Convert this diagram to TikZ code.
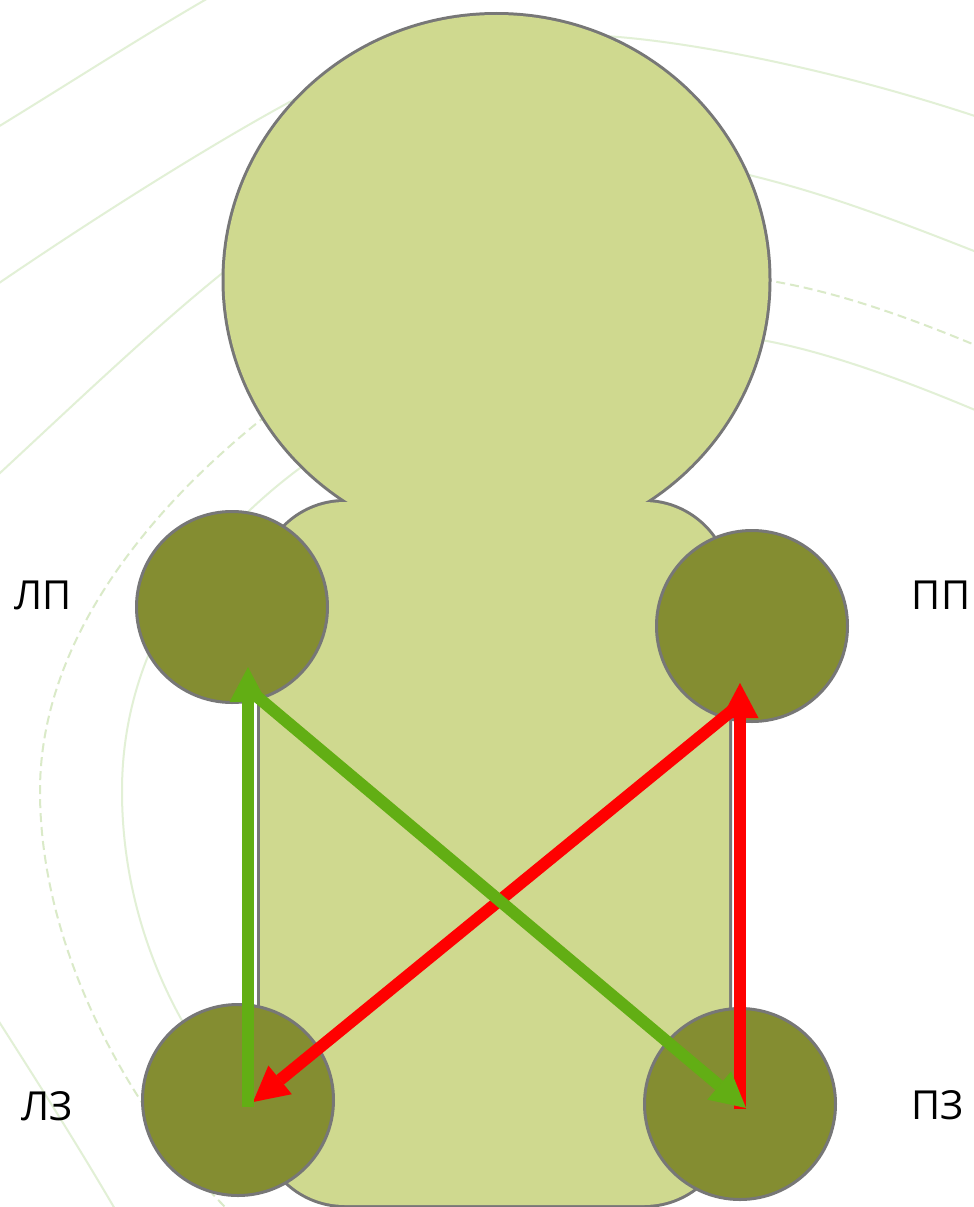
\documentclass[tikz,border=0pt]{standalone}
\usepackage{fontspec}
\setmainfont{Open Sans}
\usetikzlibrary{arrows.meta}
\definecolor{bodygreen}{HTML}{CFD98F}
\definecolor{jointolive}{HTML}{848D31}
\definecolor{edgegray}{HTML}{777777}
\definecolor{arrowgreen}{HTML}{62AE14}
\definecolor{arcgreen}{HTML}{E2F0D6}
\definecolor{arcdash}{HTML}{DAEAC8}

\begin{document}
\begin{tikzpicture}[x=1pt, y=-1pt,
  joint/.style={circle, draw=edgegray, line width=3pt, fill=jointolive, minimum size=191pt, inner sep=0pt},
  limbtag/.style={font=\fontsize{40}{48}\selectfont},
  bgarc/.style={arcgreen, line width=2pt},
  bgdash/.style={arcdash, line width=2pt, dash pattern=on 9pt off 5pt},
  crossarrow/.style={line width=12pt, -{Triangle[length=35pt, width=37pt, line width=0pt]}}]
  \useasboundingbox (0,0) rectangle (974,1207);
  \fill[white] (0,0) rectangle (974,1207);

  % Background arcs
  \draw[bgarc] (-40,150) .. controls (60,90) and (150,30) .. (240,-20);
  \draw[bgarc] (-40,310) .. controls (60,240) and (200,150) .. (297,98)
    .. controls (400,45) and (520,30) .. (605,36)
    .. controls (700,42) and (860,75) .. (1010,128);
  \draw[bgarc] (-40,510) .. controls (60,418) and (140,340) .. (220,275)
    .. controls (330,190) and (620,140) .. (753,176)
    .. controls (830,195) and (900,222) .. (974,251) -- (1010,266);
  \draw[bgdash] (1010,360) .. controls (930,325) and (850,295) .. (777,282)
    .. controls (640,255) and (370,330) .. (257,423)
    .. controls (150,510) and (40,640) .. (40,791)
    .. controls (40,950) and (130,1110) .. (225,1207) -- (245,1227);
  \draw[bgarc] (1010,425) .. controls (930,390) and (840,355) .. (767,341)
    .. controls (640,325) and (420,380) .. (300,468)
    .. controls (190,550) and (122,660) .. (122,791)
    .. controls (122,900) and (160,990) .. (200,1050);
  \draw[bgarc] (-40,960) .. controls (10,1040) and (70,1130) .. (130,1235);

  % Body and head: outline first, fill on top
  \draw[edgegray, line width=6pt, rounded corners=85pt] (260,502) rectangle (729,1205);
  \draw[edgegray, line width=6pt] (496.5,280) ellipse [x radius=272pt, y radius=265pt];
  \fill[bodygreen, rounded corners=85pt] (260,502) rectangle (729,1205);
  \fill[bodygreen] (496.5,280) ellipse [x radius=272pt, y radius=265pt];

  % Joints
  \foreach \name/\x/\y in {lp/232/607, pp/752/626, lz/238/1100, pz/740/1104}
    \node[joint] (\name) at (\x,\y) {};

  % Labels
  \node[limbtag] (lpText) at (43,595) {ЛП};
  \node[limbtag] (ppText) at (941,595) {ПП};
  \node[limbtag] (lzText) at (47,1106) {ЛЗ};
  \node[limbtag] (pzText) at (938,1105) {ПЗ};

  % Arrow ends
  \coordinate (lpTip) at (248,667);
  \coordinate (lpStart) at (248,689);
  \coordinate (ppTip) at (740,683);
  \coordinate (ppStart) at (740,704);
  \coordinate (lzTip) at (253,1102);
  \coordinate (pzTip) at (746,1108);
  \coordinate (lzFoot) at (248,1107);
  \coordinate (pzFoot) at (740,1109);

  % Red arrows
  \draw[crossarrow, red] (pzFoot) -- (ppTip);
  \draw[crossarrow, red] (ppStart) -- (lzTip);

  % Green arrows (on top)
  \draw[crossarrow, arrowgreen] (lzFoot) -- (lpTip);
  \draw[crossarrow, arrowgreen] (lpStart) -- (pzTip);
\end{tikzpicture}
\end{document}
